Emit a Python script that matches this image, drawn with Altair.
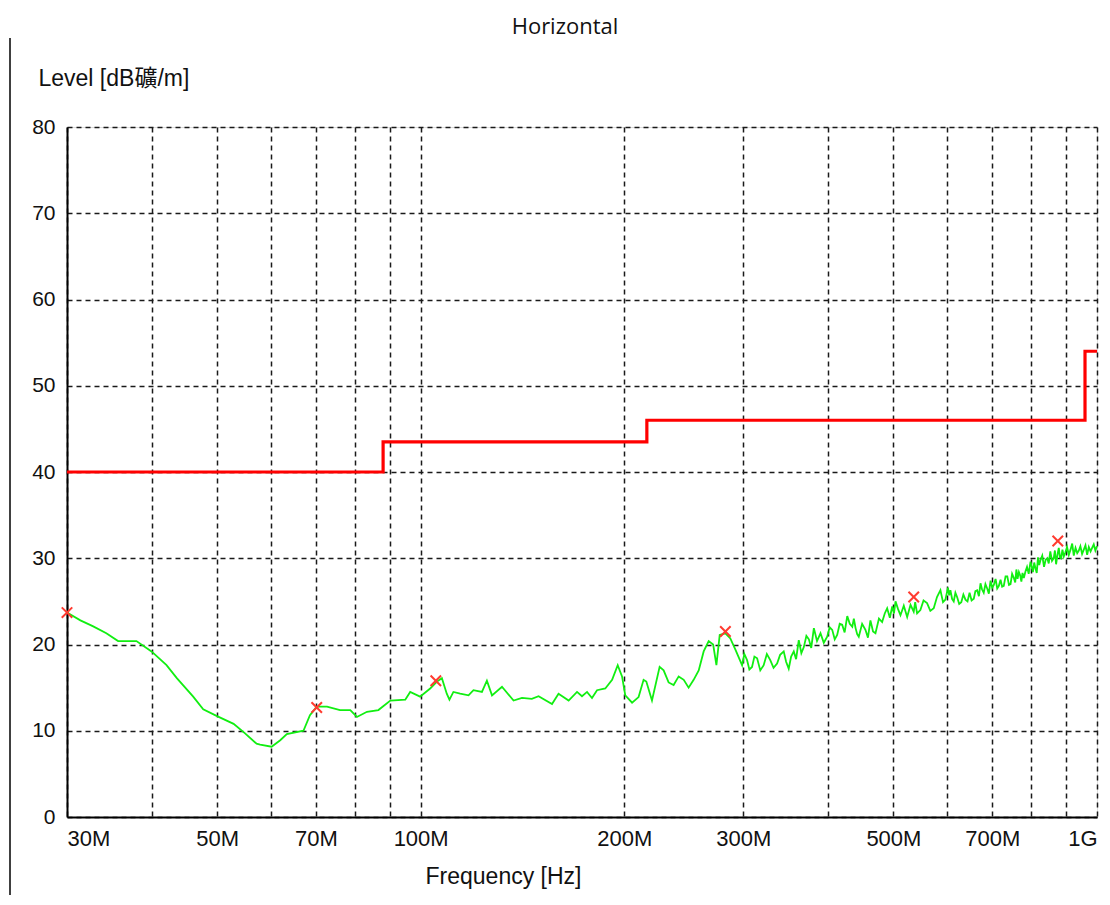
import altair as alt
import pandas as pd

# ---------------- data (MHz, dBuV/m) ----------------
freq_low = [
    30.0, 31.4, 32.8, 34.3, 35.7, 38.0, 40.0, 42.1, 43.6, 46.1, 47.7, 50.0, 52.9, 55.0,
    57.2, 57.9, 60.2, 62.0, 63.4, 67.1, 68.6, 70.2, 72.7, 76.0, 78.7, 80.5, 83.3, 86.6,
    90.2, 94.9, 96.5, 99.8, 103.3, 105.7, 107.5, 109.3, 110.3, 111.8, 114.4, 117.7, 119.7,
    123.2, 125.3, 127.5, 131.9, 137.2, 141.2, 146.0, 149.4, 156.4, 159.9, 165.5, 170.3,
    173.2, 176.2, 179.2, 182.3, 187.5, 191.9, 195.6, 198.5, 200.7, 205.4, 210.0, 213.6,
    215.6, 219.8, 225.6, 228.7, 232.6, 236.6, 240.7, 244.9, 249.0, 253.3, 257.7, 262.1,
    266.6, 270.7, 273.7, 276.8, 282.2, 287.0, 292.0, 298.7,
]
level_low = [
    23.7, 22.8, 22.1, 21.3, 20.4, 20.4, 19.2, 17.6, 16.1, 13.95, 12.5, 11.7, 10.8, 9.7,
    8.5, 8.4, 8.15, 8.9, 9.6, 10.0, 11.8, 12.8, 12.8, 12.4, 12.4, 11.6, 12.2, 12.4,
    13.5, 13.6, 14.5, 13.95, 14.9, 15.7, 16.1, 14.3, 13.6, 14.5, 14.3, 14.1, 14.7,
    14.5, 15.8, 14.1, 15.1, 13.5, 13.8, 13.7, 14.0, 13.1, 14.3, 13.5, 14.5,
    14.0, 14.5, 13.8, 14.7, 14.9, 15.9, 17.6, 16.3, 14.1, 13.25, 13.9, 15.9,
    15.7, 13.5, 17.4, 17.0, 15.6, 15.3, 16.3, 15.9, 15.0, 15.9, 17.0, 19.2,
    20.4, 20.0, 17.6, 21.1, 21.3, 20.7, 19.4, 17.6,
]

freq_mid = [
    301.0, 303.8, 306.2, 309.0, 311.5, 314.4, 317.8, 321.5, 325.0, 328.8, 332.5, 336.5,
    340.0, 344.2, 347.0, 350.1, 353.0, 356.2, 359.0, 362.3, 365.5, 368.6, 371.8, 375.0,
    378.0, 381.4, 385.5, 390.1, 394.5, 399.1, 402.5, 406.0, 409.5, 412.9, 416.5, 420.0,
    423.5, 427.3, 431.0, 434.7, 437.0, 439.6, 442.0, 444.4, 449.5, 454.6, 458.5, 462.4,
    466.5, 470.4, 476.0, 481.2, 485.5, 489.5, 494.0, 498.0, 501.0, 503.6, 508.0, 512.2,
    518.0, 524.0, 530.0, 535.8, 538.5, 542.0, 548.1, 554.0, 560.7, 567.0, 573.6, 580.0,
    586.8, 592.0, 596.9,
]
level_mid = [
    18.9, 18.2, 17.1, 17.4, 18.6, 18.4, 17.0, 17.6, 18.9, 18.2, 17.3, 17.8,
    18.8, 19.2, 18.0, 17.2, 18.6, 19.2, 18.3, 20.5, 19.0, 19.7, 21.0, 20.6,
    19.6, 21.9, 20.4, 21.3, 20.2, 20.9, 22.0, 21.7, 20.6, 21.1, 22.4, 22.3,
    21.4, 23.3, 22.4, 22.05, 23.0, 21.9, 21.2, 20.9, 22.4, 21.7, 20.8, 22.8,
    21.5, 21.3, 23.0, 22.6, 23.6, 24.2, 23.1, 24.4, 23.6, 25.0, 24.1, 23.4,
    24.5, 23.2, 24.6, 23.8, 24.9, 23.6, 24.0, 25.1, 24.8, 23.9, 24.2, 25.5,
    26.3, 24.9, 25.2,
]

freq_high = [
    602.0, 604.5, 607.1, 610.5, 614.0, 617.5, 621.1, 625.5, 630.0, 634.5, 639.0, 643.5,
    648.0, 652.5, 657.4, 661.0, 665.0, 669.0, 672.6, 676.0, 680.0, 684.0, 688.1, 692.0,
    696.0, 700.0, 703.8, 708.0, 712.0, 716.0, 720.1, 724.0, 728.0, 732.5, 736.8, 741.0,
    745.0, 749.0, 753.5, 757.0, 760.0, 763.0, 766.5, 770.0, 773.0, 776.0, 779.5, 784.0,
    788.0, 792.5, 797.5, 801.0, 804.0, 807.5, 811.2, 814.5, 818.0, 821.5, 825.1, 830.0,
    835.0, 839.5, 844.2, 848.5, 853.0, 858.0, 863.1, 866.5, 870.0, 874.0, 878.0, 881.5,
    885.0, 889.0, 893.1, 898.0, 903.0, 908.5, 913.8, 919.0, 924.0, 929.5, 934.9, 940.0,
    945.0, 950.5, 956.1, 961.5, 967.0, 972.5, 978.4, 983.5, 989.0, 994.5, 1000.0,
]
level_high = [
    26.6, 25.7, 26.3, 25.3, 25.0, 26.0, 25.5, 24.7, 24.9, 25.8, 25.2, 25.0,
    26.0, 25.1, 25.3, 26.2, 26.3, 25.6, 27.1, 26.4, 26.0, 27.0, 26.5, 25.9,
    27.4, 26.6, 26.9, 27.6, 26.5, 26.8, 27.5, 26.7, 26.8, 27.9, 27.9, 26.9,
    27.0, 28.2, 27.7, 27.2, 28.7, 27.6, 28.4, 28.0, 27.3, 28.3, 27.7, 28.5,
    29.0, 28.2, 29.6, 29.0, 28.4, 29.5, 28.8, 28.3, 30.1, 29.2, 29.8, 30.3,
    29.0, 29.8, 30.0, 29.4, 30.8, 29.7, 30.0, 30.9, 29.3, 30.4, 31.2, 30.1,
    30.0, 31.0, 30.2, 30.7, 31.3, 30.4, 31.0, 31.7, 30.3, 31.2, 30.6, 30.9,
    31.4, 30.5, 31.0, 31.5, 30.4, 31.3, 30.8, 31.2, 31.6, 30.9, 31.4,
]

limit_freq = [30.0, 88.0, 216.0, 960.0, 1000.0]
limit_level = [40.0, 43.5, 46.0, 54.0, 54.0]

peak_freq = [30.0, 70.2, 105.3, 282.2, 535.8, 875.0]
peak_level = [23.7, 12.7, 15.8, 21.5, 25.5, 32.0]

x_ticks = [30, 40, 50, 60, 70, 80, 90, 100, 200, 300, 400, 500, 600, 700, 800, 900, 1000]
y_ticks = [0, 10, 20, 30, 40, 50, 60, 70, 80]

assert len(freq_low) == len(level_low)
assert len(freq_mid) == len(level_mid)
assert len(freq_high) == len(level_high)

trace = pd.DataFrame({"f": freq_low + freq_mid + freq_high,
                      "L": level_low + level_mid + level_high})
limit = pd.DataFrame({"f": limit_freq, "L": limit_level})
peaks = pd.DataFrame({"f": peak_freq, "L": peak_level})

LABEL_FONT = "Liberation Sans, Noto Sans CJK JP"

x_scale = alt.Scale(type="log", domain=[30, 1000], nice=False, zero=False)
y_scale = alt.Scale(domain=[0, 80], nice=False, zero=False)

x_axis = alt.Axis(
    values=x_ticks,
    labelExpr="indexof([30,50,70,100,200,300,500,700], datum.value) >= 0 ? datum.value + 'M' : (datum.value == 1000 ? '1G' : '')",
    labelFlush=True,
    labelOverlap=False,
    ticks=False,
    grid=True,
    gridColor="#1a1a1a",
    gridDash=[5, 4],
    gridWidth=1.5,
    domainColor="#000000",
    domainWidth=2,
    labelFont=LABEL_FONT,
    labelFontSize=22,
    labelColor="#111111",
    labelPadding=11,
    title="Frequency [Hz]",
    titleFont=LABEL_FONT,
    titleFontSize=23,
    titleFontWeight="normal",
    titleColor="#111111",
    titleX=436,
    titleY=59,
    titleAlign="center",
    titleBaseline="middle",
)

y_axis = alt.Axis(
    values=y_ticks,
    ticks=False,
    grid=True,
    gridColor="#1a1a1a",
    gridDash=[5, 4],
    gridWidth=1.5,
    domainColor="#000000",
    domainWidth=2,
    labelFont=LABEL_FONT,
    labelFontSize=21,
    labelColor="#111111",
    labelPadding=12,
    title="Level [dB礦/m]",
    titleFont=LABEL_FONT,
    titleFontSize=23,
    titleFontWeight="normal",
    titleColor="#111111",
    titleAngle=0,
    titleAlign="left",
    titleBaseline="middle",
    titleX=-29,
    titleY=-49,
)

limit_line = alt.Chart(limit).mark_line(
    color="#ff0000", strokeWidth=3.2, interpolate="step-after"
).encode(
    x=alt.X("f:Q", scale=x_scale, axis=x_axis),
    y=alt.Y("L:Q", scale=y_scale, axis=y_axis),
)

trace_line = alt.Chart(trace).mark_line(
    color="#11ee11", strokeWidth=1.8, interpolate="linear"
).encode(
    x=alt.X("f:Q", scale=x_scale),
    y=alt.Y("L:Q", scale=y_scale),
)

peak_marks = alt.Chart(peaks).mark_point(
    shape="M-1,-1L1,1M1,-1L-1,1",
    filled=False,
    color="#ff3b30",
    strokeWidth=2,
    size=110,
    opacity=1,
).encode(
    x=alt.X("f:Q", scale=x_scale),
    y=alt.Y("L:Q", scale=y_scale),
)

frame_rule = alt.Chart(pd.DataFrame({"a": [0]})).mark_rule(
    color="#000000", strokeWidth=1.5
).encode(
    x=alt.value(-57),
    y=alt.value(-89),
    y2=alt.value(780),
)

chart = alt.layer(frame_rule, limit_line, trace_line, peak_marks).properties(
    width=1030,
    height=690,
    autosize=alt.AutoSizeParams(type="none"),
    padding={"left": 59, "top": 119, "right": 5, "bottom": 78},
    title=alt.TitleParams(
        text="Horizontal",
        font="Open Sans",
        fontSize=22,
        fontWeight="normal",
        color="#111111",
        anchor="middle",
        frame="group",
        dx=-17,
        offset=-2,
    ),
).configure_view(stroke=None).configure(background="#ffffff")

chart.save("out.html", embed_options={"renderer": "svg", "actions": False})
